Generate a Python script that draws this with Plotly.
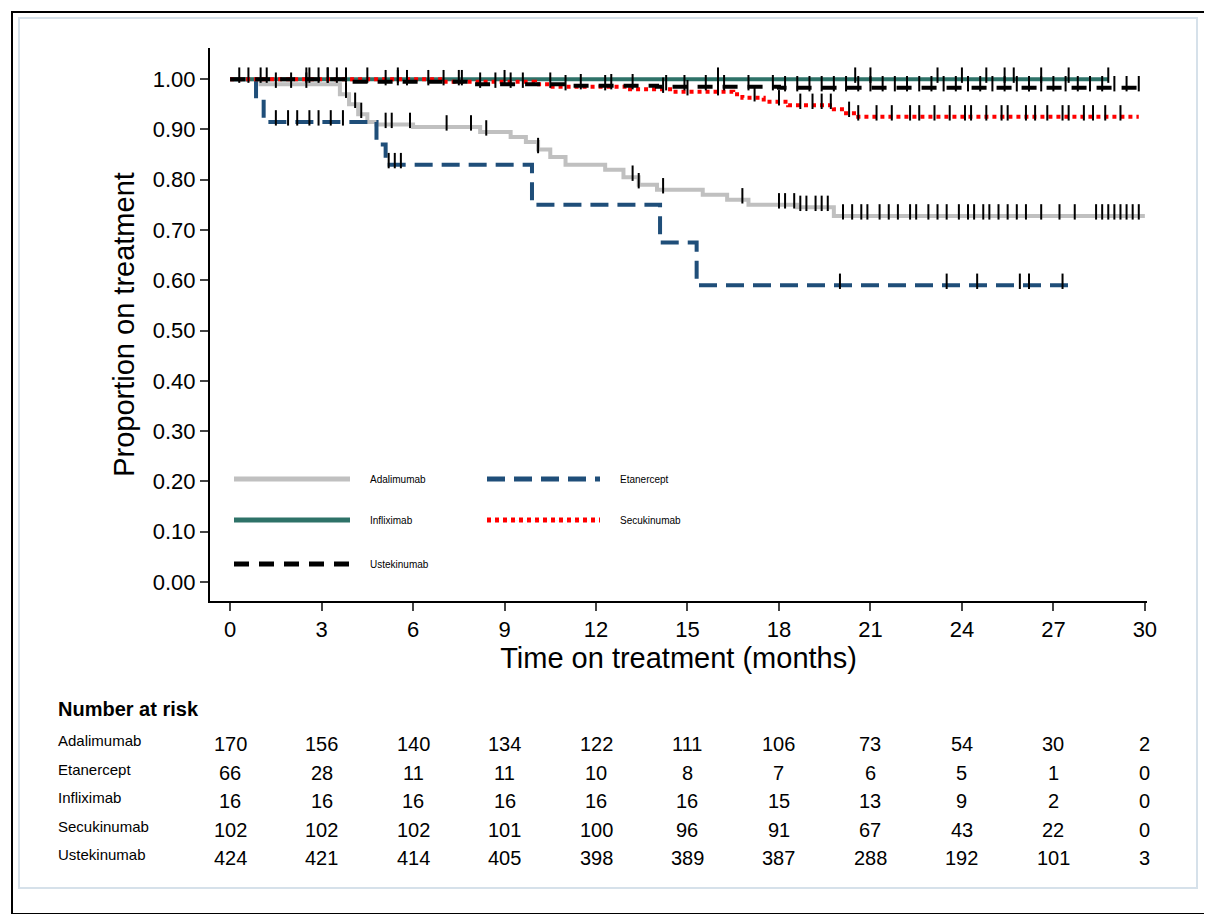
import plotly.graph_objects as go

W, H = 1212, 914
OFF = 8  # page offset of the rendered figure
L, R, T, B = 210, 1147, 48, 601  # plot area in reference pixels

drugs = ["Adalimumab", "Etanercept", "Infliximab", "Secukinumab", "Ustekinumab"]
colors = ["#c0c0c0", "#1f4e79", "#2e7268", "#ff0000", "#000000"]
dashes = ["solid", "18px,9px", "solid", "4px,4px", "15px,10px"]

# step change points (time, survival after)
ada_t = [0, 1.0, 3.6, 3.9, 4.2, 4.5, 4.8, 6.0, 8.2, 9.2, 9.7, 10.1, 10.5, 11.0, 12.3, 12.9, 13.4, 14.0, 15.5, 16.3, 17.0, 18.6, 19.8, 30.0]
ada_s = [1.0, 0.99, 0.97, 0.95, 0.93, 0.915, 0.91, 0.905, 0.895, 0.885, 0.875, 0.86, 0.845, 0.83, 0.82, 0.805, 0.79, 0.78, 0.77, 0.76, 0.75, 0.745, 0.728, 0.728]
eta_t = [0, 0.85, 1.1, 4.8, 5.1, 9.9, 14.1, 15.3, 27.5]
eta_s = [1.0, 0.96, 0.915, 0.87, 0.83, 0.75, 0.675, 0.59, 0.59]
inf_t = [0, 28.8]
inf_s = [1.0, 1.0]
sec_t = [0, 7.0, 10.0, 10.5, 13.0, 14.5, 16.5, 16.8, 17.5, 18.3, 19.8, 20.2, 20.6, 29.8]
sec_s = [1.0, 0.995, 0.99, 0.985, 0.98, 0.975, 0.97, 0.963, 0.955, 0.948, 0.94, 0.932, 0.925, 0.925]
ust_t = [0, 4.0, 8.0, 11.0, 14.0, 18.0, 30.0]
ust_s = [1.0, 0.995, 0.99, 0.987, 0.985, 0.983, 0.983]

# censoring times
ada_c = [1.5, 2.0, 2.5, 3.8, 4.1, 4.3, 5.1, 5.3, 5.9, 7.1, 7.9, 8.4, 10.1, 13.2, 13.4, 14.2, 16.8, 18.0, 18.2, 18.5, 18.7, 18.9, 19.2, 19.4, 19.6,
         20.1, 20.4, 20.7, 20.9, 21.3, 21.6, 21.9, 22.3, 22.5, 22.9, 23.2, 23.5, 23.9, 24.2, 24.4, 24.7, 24.9, 25.2, 25.5, 25.8, 26.1, 26.6,
         27.2, 27.7, 28.4, 28.6, 28.8, 29.0, 29.2, 29.4, 29.6, 29.8]
eta_c = [1.5, 1.9, 2.2, 2.6, 2.9, 3.3, 3.7, 5.2, 5.4, 5.6, 20.0, 23.5, 24.5, 25.9, 26.2, 27.3]
inf_c = [16.0, 20.5, 21.0, 23.2, 24.0, 24.8, 25.4, 25.7, 26.6, 27.5, 28.8]
sec_c = [2.5, 3.2, 4.5, 5.5, 7.6, 9.0, 11.0, 12.3, 14.2, 15.0, 16.0, 17.2, 18.0, 18.7, 19.1, 19.4, 19.7, 20.3, 20.6, 21.2, 21.7, 22.3,
         22.6, 23.1, 23.6, 24.1, 24.3, 24.8, 25.3, 25.5, 26.1, 26.4, 26.8, 27.3, 27.5, 28.0, 28.3, 28.7, 29.2]
ust_c = [0.3, 0.6, 1.0, 1.2, 2.6, 2.9, 3.2, 3.5, 3.8, 5.1, 5.5, 5.8, 6.5, 7.0, 7.5, 8.2, 8.7, 9.2, 9.6, 10.5, 11.5, 12.5, 13.2, 14.3, 14.9,
         15.6, 16.2, 17.0, 17.8, 18.2, 18.6, 19.0, 19.4, 19.8, 20.2, 20.6, 21.0, 21.4, 21.8, 22.2, 22.6, 23.0, 23.4, 23.8, 24.2, 24.6,
         25.0, 25.4, 25.8, 26.2, 26.6, 27.0, 27.4, 27.8, 28.2, 28.6, 29.0, 29.4, 29.8]

curves = [(ada_t, ada_s, ada_c), (eta_t, eta_s, eta_c), (inf_t, inf_s, inf_c), (sec_t, sec_s, sec_c), (ust_t, ust_s, ust_c)]

risk_times = [0, 3, 6, 9, 12, 15, 18, 21, 24, 27, 30]
risk = {
    "Adalimumab": [170, 156, 140, 134, 122, 111, 106, 73, 54, 30, 2],
    "Etanercept": [66, 28, 11, 11, 10, 8, 7, 6, 5, 1, 0],
    "Infliximab": [16, 16, 16, 16, 16, 16, 15, 13, 9, 2, 0],
    "Secukinumab": [102, 102, 102, 101, 100, 96, 91, 67, 43, 22, 0],
    "Ustekinumab": [424, 421, 414, 405, 398, 389, 387, 288, 192, 101, 3],
}

y_ticks = [i / 10 for i in range(11)]
x_ticks = list(range(0, 31, 3))


def surv_at(ts, ss, x):
    v = ss[0]
    for t, s in zip(ts, ss):
        if t <= x:
            v = s
    return v


def px(X):
    return (X - L) / (R - L)


def py(Y):
    return (B - Y) / (B - T)


fig = go.Figure()
for name, col, dash, (ts, ss, cs) in zip(drugs, colors, dashes, curves):
    fig.add_trace(go.Scatter(x=ts, y=ss, mode="lines", line=dict(color=col, width=4, dash=dash, shape="hv"),
                             name=name, showlegend=False))
for ts, ss, cs in curves:
    fig.add_trace(go.Scatter(x=cs, y=[surv_at(ts, ss, c) + 0.008 for c in cs], mode="markers",
                             marker=dict(symbol="line-ns", size=11, line=dict(color="black", width=2)),
                             showlegend=False, hoverinfo="skip"))

font = "Liberation Sans, Arial, sans-serif"
shapes = [
    dict(type="rect", xref="paper", yref="paper", x0=px(12), x1=px(1214), y0=py(914), y1=py(12),
         line=dict(color="black", width=2), layer="above"),
    dict(type="rect", xref="paper", yref="paper", x0=px(19), x1=px(1197), y0=py(888), y1=py(18),
         line=dict(color="#d6e1ea", width=2), layer="below"),
]
annotations = []
legend_pos = [(234, 350, 479), (487, 600, 479), (234, 350, 520), (487, 600, 520), (234, 350, 564)]
for name, col, dash, (x0, x1, yy) in zip(drugs, colors, dashes, legend_pos):
    shapes.append(dict(type="line", xref="paper", yref="paper", x0=px(x0), x1=px(x1), y0=py(yy), y1=py(yy),
                       line=dict(color=col, width=5, dash=dash)))
    annotations.append(dict(xref="paper", yref="paper", x=px(x1 + 18), y=py(yy), text=name, showarrow=False,
                            xanchor="left", yanchor="middle", font=dict(size=10, color="black", family=font)))

annotations.append(dict(xref="paper", yref="paper", x=px(56), y=py(709), text="<b>Number at risk</b>", showarrow=False,
                        xanchor="left", yanchor="middle", font=dict(size=20, color="black", family=font)))
row_y = [742, 771, 799, 828, 856]
for name, yy in zip(drugs, row_y):
    annotations.append(dict(xref="paper", yref="paper", x=px(56), y=py(yy - 2), text=name, showarrow=False,
                            xanchor="left", yanchor="middle", font=dict(size=15, color="black", family=font)))
    for t, n in zip(risk_times, risk[name]):
        annotations.append(dict(xref="x", yref="paper", x=t, y=py(yy + 2), text=str(n), showarrow=False,
                                xanchor="center", yanchor="middle", font=dict(size=20, color="black", family=font)))

fig.update_layout(
    width=W, height=H, margin=dict(l=L - OFF, r=W - R + OFF, t=T - OFF, b=H - B + OFF),
    plot_bgcolor="white", paper_bgcolor="white", font=dict(family=font, color="black"),
    shapes=shapes, annotations=annotations,
    xaxis=dict(range=[-0.66, 30.07], tickvals=x_ticks, ticks="outside", ticklen=8, tickwidth=2, showgrid=False,
               zeroline=False, showline=True, linecolor="black", linewidth=2, tickfont=dict(size=22),
               title=dict(text="Time on treatment (months)", font=dict(size=29), standoff=4)),
    yaxis=dict(range=[-0.038, 1.062], tickvals=y_ticks, ticktext=[f"{v:.2f}" for v in y_ticks], ticks="outside",
               ticklen=8, tickwidth=2, showgrid=False, zeroline=False, showline=True, linecolor="black", linewidth=2,
               tickfont=dict(size=22), title=dict(text="Proportion on treatment", font=dict(size=29), standoff=10)),
)
fig.write_html("out.html")
